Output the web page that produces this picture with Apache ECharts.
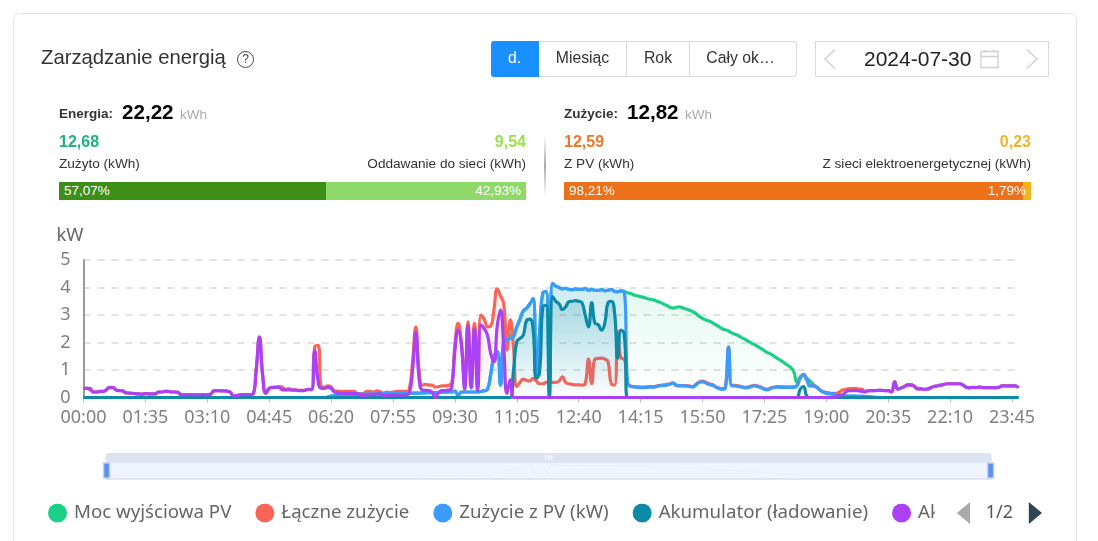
<!DOCTYPE html>
<html lang="pl"><head><meta charset="utf-8">
<script src="https://cdn.jsdelivr.net/npm/echarts@6/dist/echarts.min.js"></script>
<style>
html,body{margin:0;padding:0;background:#fff;width:1098px;height:541px;overflow:hidden;font-family:"Liberation Sans",Arial,sans-serif;color:#333}
.a{position:absolute;white-space:nowrap;line-height:1}
#card{position:absolute;left:13px;top:13px;width:1064px;height:560px;border:1px solid #e4e4e4;border-radius:7px;box-sizing:border-box}
#chart{position:absolute;left:0;top:0;width:1098px;height:541px}
.tab{position:absolute;top:41px;height:36px;box-sizing:border-box;border:1px solid #d9d9d9;border-left:none;font-size:15.8px;line-height:32px;text-align:center;color:#333;background:#fff}
.bar{position:absolute;top:182px;height:18px;color:#fff;font-size:13.5px;line-height:18px;box-sizing:border-box}
</style></head><body>
<div id="card"></div>
<div id="chart"></div>
<div class="a" style="left:41px;top:47px;font-size:20.3px;color:#333">Zarządzanie energią</div>
<div class="a" style="left:237px;top:51px;width:15px;height:15px;border:1.3px solid #444;border-radius:50%;font-size:12px;line-height:15px;text-align:center;color:#444">?</div>
<div class="tab" style="left:491px;width:48px;background:#1890ff;border-color:#1890ff;color:#fff;border-radius:3px 0 0 3px">d.</div>
<div class="tab" style="left:539px;width:88px">Miesiąc</div>
<div class="tab" style="left:627px;width:63px">Rok</div>
<div class="tab" style="left:690px;width:107px;border-radius:0 4px 4px 0;padding-right:5px">Cały ok…</div>
<div class="a" style="left:815px;top:41px;width:234px;height:36px;border:1px solid #d9d9d9;box-sizing:border-box"></div>
<div class="a" style="left:864px;top:48px;font-size:21px;color:#222">2024-07-30</div>
<svg class="a" style="left:815px;top:41px" width="234" height="36" fill="none" stroke="#cfcfcf" stroke-width="1.3">
<path d="M20 8.5 L10 18 L20 27.5 M212 8.5 L222 18 L212 27.5"/>
<path d="M166 10.5h17v16h-17z M166 15.5h17 M170 8.5v3 M179 8.5v3"/></svg>
<div class="a" style="left:59px;top:107px;font-size:13.5px;font-weight:bold">Energia:</div>
<div class="a" style="left:122px;top:102px;font-size:20.6px;font-weight:bold;color:#000">22,22</div>
<div class="a" style="left:180px;top:108px;font-size:13.5px;color:#aaa">kWh</div>
<div class="a" style="left:59px;top:134px;font-size:16px;font-weight:bold;color:#1fb27d">12,68</div>
<div class="a" style="right:572px;top:134px;font-size:16px;font-weight:bold;color:#9be04a">9,54</div>
<div class="a" style="left:59px;top:157px;font-size:13.6px">Zużyto (kWh)</div>
<div class="a" style="right:572px;top:157px;font-size:13.6px">Oddawanie do sieci (kWh)</div>
<div class="bar" style="left:59px;width:267px;background:#3d8f18;padding-left:5px">57,07%</div>
<div class="bar" style="left:326px;width:200px;background:#8fd96a;padding-right:5px;text-align:right">42,93%</div>
<div class="a" style="left:544px;top:135px;width:2px;height:62px;background:linear-gradient(to bottom,#fff,#aaa 50%,#fff)"></div>
<div class="a" style="left:564px;top:107px;font-size:13.5px;font-weight:bold">Zużycie:</div>
<div class="a" style="left:627px;top:102px;font-size:20.6px;font-weight:bold;color:#000">12,82</div>
<div class="a" style="left:685px;top:108px;font-size:13.5px;color:#aaa">kWh</div>
<div class="a" style="left:564px;top:134px;font-size:16px;font-weight:bold;color:#ee7526">12,59</div>
<div class="a" style="right:67px;top:134px;font-size:16px;font-weight:bold;color:#f0b429">0,23</div>
<div class="a" style="left:564px;top:157px;font-size:13.6px">Z PV (kWh)</div>
<div class="a" style="right:67px;top:157px;font-size:13.6px">Z sieci elektroenergetycznej (kWh)</div>
<div class="bar" style="left:564px;width:459px;background:#ec7119;padding-left:5px;overflow:visible">98,21%</div>
<div class="bar" style="left:1023px;width:8px;background:#f0b41c"></div>
<div class="a" style="right:72px;top:184px;font-size:13.5px;color:#fff">1,79%</div>
<script>
var tickStepMinutes = 5;
var times = [];
for (var m = 0; m < 1440; m += tickStepMinutes) {
  times.push(('0' + Math.floor(m / 60)).slice(-2) + ':' + ('0' + (m % 60)).slice(-2));
}
var yTicks = [0, 1, 2, 3, 4, 5];
var seriesNames = ['Moc wyjściowa PV', 'Łączne zużycie', 'Zużycie z PV (kW)', 'Akumulator (ładowanie)', 'Akumulator (rozładowanie)'];
var pvOutput = [
0,0,0,0,0,0,0,0,0,0,0,0,
0,0,0,0,0,0,0,0,0,0,0,0,
0,0,0,0,0,0,0,0,0,0,0,0,
0,0,0,0,0,0,0,0,0,0,0,0,
0,0,0,0,0,0,0,0,0,0,0,0,
0,0,0,0,0,0,0,0,0,0,0,0,
0,0,0,.02,.05,.08,.1,.1,.11,.11,.11,.11,
.12,.12,.12,.12,.13,.13,.13,.13,.14,.14,.14,.14,
.15,.15,.15,.16,.16,.16,.16,.16,.17,.17,.18,.18,
.18,.18,.19,.19,.2,.2,.24,.08,.2,.2,.2,.2,
.2,.2,.22,.25,.3,.85,1.5,1.67,.45,2.08,2.15,2.25,
2.35,2.57,2.85,3.15,3.25,3.4,3.6,.75,2.4,3.8,3.85,.6,
4.15,4.05,4,3.95,3.97,3.93,3.92,3.95,3.93,3.93,3.97,3.9,
3.93,3.9,3.9,3.92,3.88,3.9,3.93,3.86,3.85,3.88,3.85,3.81,
3.78,3.73,3.7,3.67,3.64,3.6,3.57,3.55,3.5,3.46,3.4,3.35,
3.28,3.25,3.28,3.3,3.25,3.22,3.17,3.12,3.05,2.95,2.88,2.82,
2.78,2.72,2.65,2.58,2.5,2.46,2.42,2.35,2.3,2.25,2.18,2.12,
2.05,1.98,1.92,1.85,1.78,1.7,1.63,1.58,1.5,1.42,1.35,1.27,
1.18,1.1,.95,.55,.75,.82,.7,.6,.48,.38,.27,.2,
.15,.13,.12,.1,.08,.07,.05,.05,.04,.03,.03,.02,
.02,.01,0,0,0,0,0,0,0,0,0,0,
0,0,0,0,0,0,0,0,0,0,0,0,
0,0,0,0,0,0,0,0,0,0,0,0,
0,0,0,0,0,0,0,0,0,0,0,0];
var totalLoad = [
.33,.33,.28,.2,.2,.22,.22,.28,.37,.37,.27,.25,
.24,.17,.16,.15,.14,.13,.12,.14,.13,.13,.13,.2,
.2,.22,.22,.2,.2,.19,.1,.1,.11,.1,.1,.1,
.1,.1,.1,.12,.24,.25,.24,.24,.23,.2,.07,.07,
.1,.11,.11,.1,.12,1,2.2,.8,.15,.33,.37,.38,
.4,.38,.3,.32,.28,.28,.26,.26,.27,.3,.3,1.85,
1.9,.4,.38,.42,.38,.25,.23,.22,.22,.22,.22,.22,
.15,.14,.15,.22,.22,.2,.24,.22,.16,.2,.18,.2,
.22,.22,.22,.22,.3,1.3,2.56,1,.45,.48,.45,.45,
.38,.4,.42,.42,.45,.5,1.9,2.7,2,.6,2.75,.55,
2.7,.4,3,2.85,2.57,2.6,3.2,3.95,3.7,3.4,1.73,2.82,
1.8,.4,.55,.67,.62,.6,.7,.6,.5,.5,.55,.58,
.55,.55,.6,.75,.55,.5,.48,.46,.46,.45,.5,1.4,
.5,1.4,1.42,1.43,1.4,1.3,.5,.45,2.4,1.43,1.4,.52,
.42,.4,.39,.38,.38,.39,.4,.4,.42,.44,.46,.47,
.5,.53,.45,.43,.43,.43,.42,.4,.48,.57,.6,.56,
.5,.47,.4,.35,.32,.37,1.83,.44,.44,.42,.4,.37,
.38,.42,.44,.42,.37,.32,.3,.35,.38,.4,.39,.39,
.39,.39,.39,.44,.72,.84,.67,.44,.43,.38,.28,.22,
.18,.16,.15,.15,.2,.27,.3,.32,.32,.33,.31,.3,
.22,.25,.25,.25,.26,.26,.25,.25,.2,.57,.3,.35,
.4,.47,.47,.42,.3,.3,.3,.32,.35,.4,.42,.45,
.47,.5,.5,.5,.5,.5,.45,.37,.35,.37,.36,.38,
.36,.36,.36,.36,.36,.37,.42,.42,.42,.42,.42,.35];
var selfUse = [
0,0,0,0,0,0,0,0,0,0,0,0,
0,0,0,0,0,0,0,0,0,0,0,0,
0,0,0,0,0,0,0,0,0,0,0,0,
0,0,0,0,0,0,0,0,0,0,0,0,
0,0,0,0,0,0,0,0,0,0,0,0,
0,0,0,0,0,0,0,0,0,0,0,0,
0,0,0,.02,.05,.08,.1,.1,.11,.11,.11,.11,
.12,.12,.12,.12,.13,.13,.13,.13,.14,.14,.14,.14,
.15,.15,.15,.16,.16,.16,.16,.16,.17,.17,.18,.18,
.18,.18,.19,.19,.2,.2,.22,.08,.2,.2,.2,.2,
.2,.2,.22,.25,.3,.85,1.5,1.67,.45,2.08,2.12,2.15,
2.2,2.57,2.85,3.15,3.25,3.4,3.6,.75,2.4,3.8,3.85,.6,
4.15,4.05,4,3.95,3.97,3.93,3.92,3.95,3.93,3.93,3.97,3.9,
3.93,3.9,3.9,3.92,3.88,3.9,3.93,3.86,3.85,3.88,3.85,.52,
.4,.38,.37,.36,.36,.37,.38,.38,.4,.43,.44,.45,
.48,.52,.43,.42,.42,.42,.4,.38,.46,.55,.57,.53,
.47,.45,.38,.33,.3,.35,1.83,.42,.42,.4,.38,.35,
.36,.4,.42,.4,.35,.3,.28,.33,.36,.38,.37,.37,
.37,.37,.37,.42,.7,.82,.65,.42,.42,.38,.28,.2,
.17,.15,.14,.1,.08,.08,.06,.05,.06,.06,.05,.05,
.04,.03,.02,.01,0,0,0,0,0,0,0,0,
0,0,0,0,0,0,0,0,0,0,0,0,
0,0,0,0,0,0,0,0,0,0,0,0,
0,0,0,0,0,0,0,0,0,0,0,0];
var batteryCharge = [
0,0,0,0,0,0,0,0,0,0,0,0,
0,0,0,0,0,0,0,0,0,0,0,0,
0,0,0,0,0,0,0,0,0,0,0,0,
0,0,0,0,0,0,0,0,0,0,0,0,
0,0,0,0,0,0,0,0,0,0,0,0,
0,0,0,0,0,0,0,0,0,0,0,0,
0,0,0,0,0,0,0,0,0,0,0,0,
0,0,0,0,0,0,0,0,0,0,0,0,
0,0,0,0,0,0,0,0,0,0,0,0,
0,0,0,0,0,0,0,0,0,0,0,0,
0,0,0,0,0,0,0,0,0,0,0,0,
1,2.03,2.15,2.27,2.8,2.85,2.5,.7,.9,3.3,3.35,0,
3.67,3.5,3.4,3.2,3.3,3.48,3.5,3.52,3.5,3.45,3,2.57,
3.45,2.7,2.65,2.45,2.7,3.45,3.5,3.1,1.43,2.45,2.3,0,
0,0,0,0,0,0,0,0,0,0,0,0,
0,0,0,0,0,0,0,0,0,0,0,0,
0,0,0,0,0,0,0,0,0,0,0,0,
0,0,0,0,0,0,0,0,0,0,0,0,
0,0,0,0,.3,.4,.05,0,0,0,0,0,
0,0,0,0,0,0,0,0,0,0,0,0,
0,0,0,0,0,0,0,0,0,0,0,0,
0,0,0,0,0,0,0,0,0,0,0,0,
0,0,0,0,0,0,0,0,0,0,0,0,
0,0,0,0,0,0,0,0,0,0,0,0];
var batteryDischarge = [
.33,.33,.33,.2,.2,.22,.22,.28,.36,.36,.27,.25,
.24,.17,.16,.15,.14,.13,.12,.14,.13,.13,.13,.2,
.2,.22,.22,.2,.2,.19,.1,.1,.11,.1,.1,.1,
.1,.1,.1,.12,.24,.25,.24,.24,.23,.2,.07,.07,
.1,.11,.11,.1,.12,1,2.2,.8,.15,.33,.36,.37,
.37,.28,.28,.28,.27,.27,.25,.25,.26,.3,.28,1.7,
.6,.33,.33,.38,.33,.2,.17,.16,.15,.15,.15,.14,
.14,.08,.08,.09,.1,.1,.12,.13,.08,.08,.09,.09,
.1,.09,.09,.1,.15,1,2.35,.7,.27,.26,.25,.2,
0,.18,.25,.25,.27,.35,1.7,2.45,1.9,.3,2.6,.35,
2.5,.25,2.63,2.5,2.27,1.6,1.3,2.6,3.18,1.8,.15,.64,
0,0,0,0,0,0,0,0,0,0,0,0,
0,0,0,0,0,0,0,0,0,0,0,0,
0,0,0,0,0,0,0,0,0,0,0,0,
0,0,0,0,0,0,0,0,0,0,0,0,
0,0,0,0,0,0,0,0,0,0,0,0,
0,0,0,0,0,0,0,0,0,0,0,0,
0,0,0,0,0,0,0,0,0,0,0,0,
0,0,0,0,0,0,0,0,0,0,0,0,
0,0,0,.03,.08,.1,.2,.25,.25,.25,.24,.22,
.2,.25,.25,.25,.26,.26,.25,.25,.2,.57,.3,.35,
.4,.45,.45,.4,.33,.32,.3,.3,.35,.4,.42,.45,
.47,.5,.5,.5,.5,.5,.45,.37,.35,.37,.36,.38,
.36,.36,.36,.36,.36,.37,.42,.42,.42,.42,.42,.35];
var colors = ['#1bcf87', '#f96559', '#3c9bff', '#0d8aa5', '#aa41f6'];
var allValues = [pvOutput, totalLoad, selfUse, batteryCharge, batteryDischarge];
var topAlpha = [0.18, 0.14, 0.2, 0.32, 0.1];
function grad(c, a) {
  var n = parseInt(c.slice(1), 16), rgb = (n >> 16) + ',' + ((n >> 8) & 255) + ',' + (n & 255);
  return {type: 'linear', x: 0, y: 0, x2: 0, y2: 1, colorStops: [
    {offset: 0, color: 'rgba(' + rgb + ',' + a + ')'},
    {offset: 1, color: 'rgba(' + rgb + ',0)'}]};
}
var font = '"Noto Sans"';
var chart = echarts.init(document.getElementById('chart'), null, {renderer: 'canvas'});
chart.setOption({
  animation: false,
  color: colors,
  grid: {left: 83.5, right: 79.5, top: 260, bottom: 143.5, containLabel: false},
  legend: {
    type: 'scroll', left: 43, width: 994, top: 497, icon: 'circle', itemWidth: 19, itemHeight: 19, itemGap: 24,
    textStyle: {fontFamily: font, fontSize: 18.7, color: '#666', padding: [0, 0, 0, 2]},
    pageIconSize: [14, 22], pageButtonGap: 22, pageButtonItemGap: 7,
    pageIconColor: '#2f4554', pageIconInactiveColor: '#aaa',
    pageTextStyle: {fontFamily: font, fontSize: 18, color: '#555'},
    data: seriesNames
  },
  xAxis: {
    type: 'category', boundaryGap: false, data: times,
    axisLine: {lineStyle: {color: '#999', width: 1}},
    axisTick: {show: true, interval: 18, length: 5, lineStyle: {color: '#bbb'}},
    axisLabel: {interval: 18, fontFamily: font, fontSize: 18, color: '#808080', margin: 11}
  },
  yAxis: {
    type: 'value', min: yTicks[0], max: yTicks[yTicks.length - 1], interval: 1,
    name: 'kW', nameLocation: 'end', nameGap: 15,
    nameTextStyle: {fontFamily: font, fontSize: 18.5, color: '#666', align: 'right'},
    axisLine: {show: true, lineStyle: {color: '#999', width: 2}},
    axisTick: {show: false},
    axisLabel: {fontFamily: font, fontSize: 18, color: '#808080', margin: 13, padding: [0, 0, 3, 0]},
    splitLine: {lineStyle: {color: '#e2e2e2', width: 2, type: [7, 7]}}
  },
  dataZoom: [{
    type: 'slider', start: 0, end: 100, left: 102, right: 110, top: 453, height: 18,
    moveHandleSize: 9, showDetail: false,
    borderColor: '#cfd6e6', backgroundColor: '#f0f4ff', fillerColor: 'rgba(240,244,255,0.8)',
    moveHandleStyle: {color: '#dde3f2', opacity: 1},
    handleIcon: 'path://M0,0 L6,0 L6,15 L0,15 Z', handleSize: 15,
    handleStyle: {color: '#5b8ff9', borderColor: '#c8d0e4', borderWidth: 1.5},
    dataBackground: {lineStyle: {color: '#cfdaf8', width: 1}, areaStyle: {color: '#e8eefd'}},
    selectedDataBackground: {lineStyle: {color: '#cfdaf8', width: 1}, areaStyle: {color: '#e8eefd'}}
  }],
  series: seriesNames.map(function (name, k) {
    return {
      name: name, type: 'line', data: allValues[k], smooth: true, showSymbol: false, symbol: 'none',
      lineStyle: {width: 3.2, color: colors[k]}, itemStyle: {color: colors[k]},
      areaStyle: {color: grad(colors[k], topAlpha[k])}, z: 2 + k
    };
  })
});
</script>
</body></html>
